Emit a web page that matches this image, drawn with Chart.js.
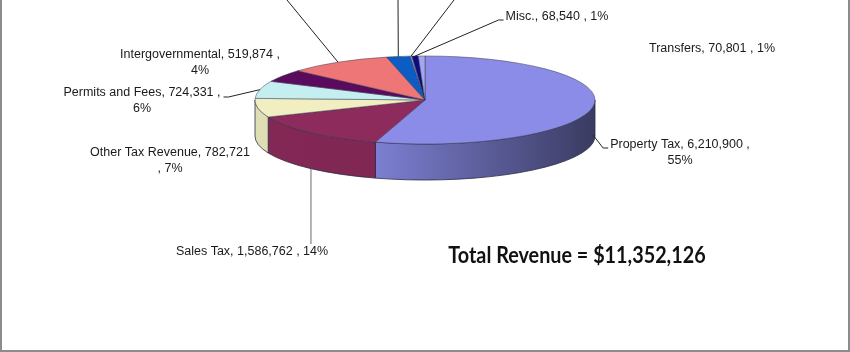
<!DOCTYPE html>
<html>
<head>
<meta charset="utf-8">
<script src="https://cdn.jsdelivr.net/npm/chart.js@4.4.0/dist/chart.umd.min.js"></script>
<style>
  html, body { margin: 0; padding: 0; background: #fff; }
  #wrap { width: 850px; height: 352px; }
</style>
</head>
<body>
<div id="wrap"><canvas id="canvas1" width="850" height="352"></canvas></div>
<script>
// revenue sources, clockwise from 12 o'clock (the three after Intergovernmental have their labels cut off in the picture)
var categories = ["Property Tax", "Sales Tax", "Other Tax Revenue", "Permits and Fees", "Intergovernmental",
                  "Charges for Services", "Fines and Forfeitures", "Interest", "Misc.", "Transfers"];
var amounts = [6210900, 1586762, 782721, 724331, 519874, 1115197, 255000, 18000, 68540, 70801];
var percents = [55, 14, 7, 6, 4, 10, 2, 0, 1, 1];
var totalRevenue = 11352126;

var topColors = ["#8a8ce8", "#8e2b5d", "#f1efc2", "#c4eef0", "#5b0b5e",
                 "#ef7676", "#0b5cc4", "#a4a8cc", "#0c0c80", "#a6a6ee"];

// look of the tilted pie
var squash = 0.259;   // ellipse height / width
var depth = 36;       // thickness of the pie
var topY = 100;       // centre of the top face

// where each data label sits (centre of its first line), how it wraps, how its leader runs
var labelSpots = [
  {x: 680, y: 145, wrap: 1, leader: "left", drop: 0.8},
  {x: 252, y: 252, wrap: 0, leader: "down", drop: 1},
  {x: 170, y: 153, wrap: 2, leader: null},
  {x: 142, y: 93, wrap: 1, leader: "right", drop: 0},
  {x: 200, y: 55, wrap: 1, leader: null},
  {x: 287, y: 0, hidden: true, leader: "end", drop: 0},
  {x: 398, y: 0, hidden: true, leader: "end", drop: 0},
  {x: 454, y: 0, hidden: true, leader: "end", drop: 0},
  {x: 557, y: 17, wrap: 0, leader: "left", drop: 0},
  {x: 712, y: 49, wrap: 0, leader: null}
];

function shade(hex, f) {
  var n = parseInt(hex.slice(1), 16);
  var r = Math.round(((n >> 16) & 255) * f), g = Math.round(((n >> 8) & 255) * f), b = Math.round((n & 255) * f);
  return "rgb(" + r + "," + g + "," + b + ")";
}

function labelLines(i) {
  var v = amounts[i].toLocaleString("en-US");
  var w = labelSpots[i].wrap;
  if (w === 1) return [categories[i] + ", " + v + " ,", percents[i] + "%"];
  if (w === 2) return [categories[i] + ", " + v, ", " + percents[i] + "%"];
  return [categories[i] + ", " + v + " , " + percents[i] + "%"];
}

var tiltPlugin = {
  id: "tilt",
  beforeDatasetsDraw: function (chart) {
    var ctx = chart.ctx, arcs = chart.getDatasetMeta(0).data;
    var cx = arcs[0].x, cy = arcs[0].y, r = arcs[0].outerRadius, ry = r * squash;
    // side walls: only the front half can be seen
    arcs.forEach(function (arc, i) {
      var a0 = Math.max(arc.startAngle, 0), a1 = Math.min(arc.endAngle, Math.PI);
      if (a1 <= a0) return;
      var g = ctx.createLinearGradient(cx - r, 0, cx + r, 0);
      g.addColorStop(0, shade(topColors[i], 0.93));
      g.addColorStop(0.36, shade(topColors[i], 0.9));
      g.addColorStop(1, shade(topColors[i], 0.42));
      ctx.beginPath();
      ctx.ellipse(cx, topY, r, ry, 0, a0, a1, false);
      ctx.ellipse(cx, topY + depth, r, ry, 0, a1, a0, true);
      ctx.closePath();
      ctx.fillStyle = g;
      ctx.fill();
      ctx.lineWidth = 0.8;
      ctx.strokeStyle = "#2b2b45";
      ctx.stroke();
    });
    // top face: chart.js draws the pie, squashed into an ellipse
    ctx.save();
    ctx.translate(0, topY);
    ctx.scale(1, squash);
    ctx.translate(0, -cy);
  },
  afterDatasetsDraw: function (chart) {
    var ctx = chart.ctx;
    ctx.restore();
    var arcs = chart.getDatasetMeta(0).data;
    var cx = arcs[0].x, r = arcs[0].outerRadius, ry = r * squash;

    ctx.font = "12.5px 'Liberation Sans', Arial, sans-serif";
    ctx.textBaseline = "middle";
    ctx.textAlign = "center";
    labelSpots.forEach(function (s, i) {
      var lines = labelLines(i);
      var w1 = ctx.measureText(lines[0]).width;
      if (s.leader) {
        var m = (arcs[i].startAngle + arcs[i].endAngle) / 2;
        var ax = cx + r * Math.cos(m);
        var ay = topY + ry * Math.sin(m) + (Math.sin(m) > 0 ? depth * s.drop : 0);
        ctx.beginPath();
        ctx.moveTo(ax, ay);
        if (s.leader === "left") {
          var L = s.x - w1 / 2;
          ctx.lineTo(L - 7, s.y + 3);
          ctx.lineTo(L - 2, s.y + 3);
        } else if (s.leader === "right") {
          var R = s.x + w1 / 2;
          ctx.lineTo(R + 8, s.y + 4);
          ctx.lineTo(R + 3, s.y + 4);
        } else if (s.leader === "down") {
          ctx.lineTo(ax, s.y - 8);
        } else {
          ctx.lineTo(s.x, s.y);
        }
        ctx.lineWidth = 1;
        ctx.strokeStyle = s.leader === "down" ? "#6a6a6a" : "#222";
        ctx.stroke();
      }
      if (s.hidden) return;
      ctx.fillStyle = "#1a1a1a";
      lines.forEach(function (t, k) { ctx.fillText(t, s.x, s.y + k * 15.5); });
    });

    // total, a bit condensed like the original's Calibri
    ctx.save();
    ctx.translate(577, 256);
    ctx.scale(0.86, 1);
    ctx.font = "bold 23px Lato, 'Open Sans', sans-serif";
    ctx.fillStyle = "#111";
    ctx.fillText("Total Revenue = $" + totalRevenue.toLocaleString("en-US"), 0, 0);
    ctx.restore();

    // frame (top edge is cut off in the picture)
    ctx.beginPath();
    ctx.moveTo(1, 0);
    ctx.lineTo(1, 351);
    ctx.lineTo(849, 351);
    ctx.lineTo(849, 0);
    ctx.lineWidth = 2;
    ctx.strokeStyle = "#8c8c8c";
    ctx.stroke();
  }
};

new Chart(document.getElementById("canvas1"), {
  type: "pie",
  data: {
    labels: categories,
    datasets: [{
      data: amounts,
      backgroundColor: topColors,
      borderColor: "#3a3a50",
      borderWidth: 0.8,
      radius: 170,
      clip: false
    }]
  },
  options: {
    responsive: false,
    animation: false,
    events: [],
    layout: { padding: 0 },
    plugins: { legend: { display: false }, tooltip: { enabled: false } }
  },
  plugins: [tiltPlugin]
});
</script>
</body>
</html>
